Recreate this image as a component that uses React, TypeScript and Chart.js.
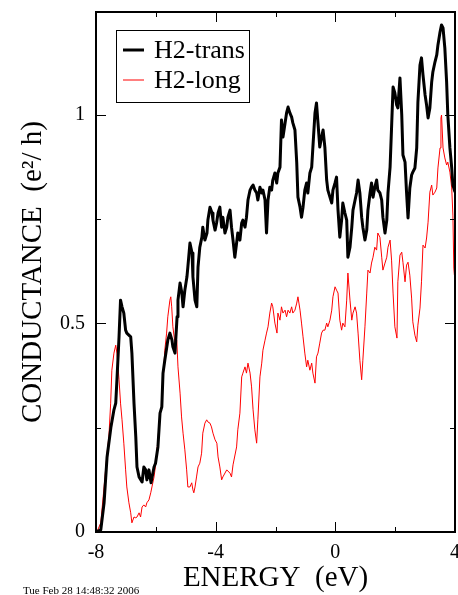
import React, { useEffect, useRef } from 'react';
import { Chart, registerables } from 'chart.js';

Chart.register(...registerables);

// ---- data ----
const transEnergy = [
  -8.00, -7.84, -7.73, -7.63, -7.50, -7.40, -7.34, -7.30, -7.23, -7.18, -7.13, -7.07, -7.01, -6.97, -6.84, -6.80,
  -6.73, -6.67, -6.63, -6.56, -6.46, -6.40, -6.34, -6.30, -6.23, -6.16, -6.06, -6.01, -5.93, -5.86, -5.80, -5.76,
  -5.70, -5.60, -5.53, -5.46, -5.43, -5.36, -5.29, -5.26, -5.19, -5.13, -5.09, -5.03, -4.96, -4.93, -4.86, -4.79,
  -4.76, -4.69, -4.63, -4.59, -4.53, -4.46, -4.43, -4.36, -4.29, -4.26, -4.19, -4.12, -4.09, -4.02, -3.97, -3.92,
  -3.86, -3.80, -3.76, -3.69, -3.63, -3.59, -3.52, -3.47, -3.42, -3.36, -3.30, -3.26, -3.19, -3.13, -3.09, -3.02,
  -2.97, -2.92, -2.85, -2.80, -2.75, -2.69, -2.63, -2.59, -2.52, -2.46, -2.42, -2.35, -2.30, -2.25, -2.19, -2.13,
  -2.09, -2.02, -1.96, -1.92, -1.85, -1.80, -1.75, -1.68, -1.63, -1.58, -1.52, -1.46, -1.42, -1.35, -1.29, -1.25,
  -1.18, -1.13, -1.08, -1.02, -0.96, -0.92, -0.85, -0.79, -0.75, -0.68, -0.63, -0.58, -0.52, -0.46, -0.41, -0.35,
  -0.29, -0.25, -0.18, -0.12, -0.08, -0.01, 0.04, 0.09, 0.15, 0.21, 0.25, 0.32, 0.38, 0.42, 0.49, 0.55,
  0.59, 0.66, 0.71, 0.76, 0.82, 0.88, 0.92, 0.99, 1.05, 1.09, 1.16, 1.21, 1.26, 1.32, 1.38, 1.42,
  1.49, 1.55, 1.59, 1.66, 1.72, 1.76, 1.83, 1.88, 1.93, 1.99, 2.05, 2.09, 2.16, 2.22, 2.26, 2.33,
  2.38, 2.43, 2.49, 2.55, 2.59, 2.66, 2.72, 2.76, 2.83, 2.88, 2.93, 3.00, 3.05, 3.10, 3.16, 3.22,
  3.26, 3.33, 3.39, 3.43, 3.50, 3.55, 3.60, 3.66, 3.72, 3.76, 3.83, 3.89, 3.93, 4.00,
];
const transConductance = [
  0.000, 0.005, 0.070, 0.180, 0.252, 0.293, 0.309, 0.365, 0.468, 0.556, 0.540, 0.525, 0.484, 0.477, 0.468, 0.429,
  0.309, 0.228, 0.156, 0.132, 0.120, 0.156, 0.149, 0.125, 0.149, 0.118, 0.156, 0.165, 0.204, 0.285, 0.300, 0.381,
  0.412, 0.460, 0.477, 0.460, 0.444, 0.429, 0.516, 0.556, 0.597, 0.573, 0.540, 0.580, 0.612, 0.635, 0.693, 0.669,
  0.612, 0.556, 0.540, 0.635, 0.683, 0.707, 0.731, 0.700, 0.717, 0.748, 0.779, 0.765, 0.748, 0.724, 0.741, 0.765,
  0.779, 0.731, 0.755, 0.717, 0.731, 0.755, 0.772, 0.731, 0.700, 0.659, 0.693, 0.717, 0.700, 0.741, 0.748, 0.731,
  0.755, 0.796, 0.820, 0.827, 0.832, 0.820, 0.813, 0.796, 0.827, 0.813, 0.820, 0.796, 0.717, 0.796, 0.827, 0.820,
  0.844, 0.861, 0.837, 0.861, 0.875, 0.988, 0.947, 0.981, 1.005, 1.019, 1.005, 0.995, 0.981, 0.964, 0.885, 0.803,
  0.779, 0.755, 0.779, 0.820, 0.837, 0.813, 0.861, 0.875, 0.923, 1.005, 1.029, 0.981, 0.923, 0.947, 0.964, 0.923,
  0.844, 0.820, 0.803, 0.789, 0.820, 0.837, 0.851, 0.772, 0.707, 0.748, 0.789, 0.765, 0.748, 0.659, 0.683, 0.731,
  0.772, 0.796, 0.813, 0.844, 0.813, 0.755, 0.731, 0.700, 0.724, 0.772, 0.813, 0.837, 0.803, 0.827, 0.844, 0.820,
  0.813, 0.796, 0.755, 0.717, 0.748, 0.813, 0.875, 0.971, 1.067, 1.053, 1.024, 1.017, 1.089, 1.000, 0.904, 0.887,
  0.815, 0.753, 0.825, 0.856, 0.863, 0.873, 0.921, 1.031, 1.120, 1.137, 1.096, 1.048, 1.024, 0.993, 1.017, 1.079,
  1.103, 1.127, 1.144, 1.168, 1.199, 1.216, 1.209, 1.161, 1.079, 1.000, 0.921, 0.873, 0.832, 0.815,
];

const longEnergy = [
  -7.97, -7.84, -7.73, -7.63, -7.57, -7.51, -7.47, -7.40, -7.34, -7.30, -7.23, -7.18, -7.13, -7.07, -7.01, -6.97,
  -6.90, -6.84, -6.80, -6.73, -6.67, -6.63, -6.56, -6.51, -6.46, -6.40, -6.34, -6.30, -6.23, -6.17, -6.13, -6.06,
  -6.00, -5.93, -5.86, -5.81, -5.76, -5.70, -5.64, -5.60, -5.53, -5.50, -5.47, -5.43, -5.36, -5.30, -5.26, -5.19,
  -5.14, -5.09, -5.03, -4.97, -4.93, -4.86, -4.80, -4.76, -4.73, -4.69, -4.64, -4.59, -4.53, -4.47, -4.43, -4.36,
  -4.30, -4.26, -4.19, -4.14, -4.09, -4.02, -3.96, -3.92, -3.86, -3.80, -3.76, -3.63, -3.52, -3.47, -3.42, -3.30,
  -3.26, -3.19, -3.13, -3.09, -3.02, -2.97, -2.92, -2.85, -2.80, -2.75, -2.69, -2.63, -2.59, -2.52, -2.46, -2.42,
  -2.35, -2.30, -2.25, -2.19, -2.13, -2.09, -2.02, -1.95, -1.92, -1.85, -1.80, -1.75, -1.68, -1.63, -1.58, -1.52,
  -1.46, -1.42, -1.35, -1.29, -1.25, -1.18, -1.13, -1.08, -1.02, -0.96, -0.92, -0.85, -0.79, -0.75, -0.68, -0.63,
  -0.58, -0.52, -0.46, -0.41, -0.35, -0.29, -0.25, -0.18, -0.12, -0.08, -0.01, 0.04, 0.09, 0.15, 0.21, 0.25,
  0.32, 0.38, 0.42, 0.49, 0.55, 0.59, 0.66, 0.71, 0.76, 0.82, 0.88, 0.92, 0.99, 1.05, 1.09, 1.16,
  1.21, 1.26, 1.32, 1.38, 1.42, 1.49, 1.55, 1.59, 1.66, 1.72, 1.76, 1.83, 1.88, 1.93, 1.99, 2.06,
  2.09, 2.16, 2.22, 2.26, 2.33, 2.38, 2.43, 2.49, 2.55, 2.59, 2.66, 2.72, 2.76, 2.83, 2.88, 2.93,
  3.00, 3.05, 3.10, 3.16, 3.22, 3.26, 3.33, 3.39, 3.43, 3.50, 3.53, 3.55, 3.60, 3.66, 3.72, 3.76,
  3.83, 3.89, 3.93, 3.96, 3.98,
];
const longConductance = [
  0.000, 0.022, 0.108, 0.189, 0.228, 0.309, 0.388, 0.429, 0.448, 0.429, 0.365, 0.309, 0.269, 0.213, 0.149, 0.108,
  0.070, 0.046, 0.022, 0.036, 0.034, 0.036, 0.046, 0.036, 0.060, 0.065, 0.060, 0.070, 0.077, 0.094, 0.108, 0.132,
  0.165, 0.221, 0.285, 0.300, 0.357, 0.436, 0.477, 0.516, 0.556, 0.564, 0.540, 0.492, 0.453, 0.460, 0.396, 0.333,
  0.276, 0.237, 0.197, 0.149, 0.108, 0.108, 0.118, 0.101, 0.094, 0.108, 0.132, 0.156, 0.165, 0.189, 0.237, 0.261,
  0.269, 0.264, 0.261, 0.252, 0.237, 0.221, 0.213, 0.180, 0.156, 0.125, 0.132, 0.149, 0.141, 0.132, 0.161, 0.204,
  0.245, 0.285, 0.372, 0.381, 0.396, 0.381, 0.405, 0.381, 0.348, 0.293, 0.245, 0.213, 0.269, 0.372, 0.405, 0.436,
  0.460, 0.477, 0.492, 0.525, 0.549, 0.540, 0.501, 0.477, 0.525, 0.508, 0.540, 0.525, 0.532, 0.516, 0.532, 0.525,
  0.540, 0.525, 0.532, 0.549, 0.564, 0.532, 0.501, 0.468, 0.429, 0.396, 0.412, 0.388, 0.405, 0.381, 0.357, 0.420,
  0.429, 0.453, 0.477, 0.484, 0.484, 0.501, 0.492, 0.508, 0.532, 0.564, 0.588, 0.580, 0.573, 0.508, 0.484, 0.501,
  0.492, 0.556, 0.621, 0.556, 0.508, 0.525, 0.540, 0.525, 0.477, 0.412, 0.365, 0.412, 0.492, 0.573, 0.628, 0.621,
  0.645, 0.659, 0.683, 0.676, 0.717, 0.707, 0.659, 0.628, 0.645, 0.659, 0.683, 0.700, 0.652, 0.573, 0.492, 0.465,
  0.600, 0.664, 0.671, 0.647, 0.600, 0.640, 0.647, 0.616, 0.561, 0.504, 0.472, 0.456, 0.496, 0.537, 0.600, 0.688,
  0.681, 0.705, 0.743, 0.815, 0.832, 0.808, 0.815, 0.825, 0.873, 0.921, 0.993, 1.000, 0.921, 0.897, 0.880, 0.887,
  0.863, 0.825, 0.760, 0.633, 0.616,
];

const seriesNames = ['H2-trans', 'H2-long'];
const seriesColors = ['#000000', '#ff0000'];
const xTickValues = [-8, -6, -4, -2, 0, 2, 4];
const xLabelValues = [-8, -4, 0, 4];
const yTickValues = [0, 0.25, 0.5, 0.75, 1];
const yLabelValues = [0, 0.5, 1];
const xTitle = 'ENERGY  (eV)';
const yTitle = 'CONDUCTANCE  (e\u00B2/ h)';
const stamp = 'Tue Feb 28 14:48:32 2006';

const FONT = '"Liberation Serif", "Times New Roman", Times, serif';

export default function App() {
  const ref = useRef<HTMLCanvasElement>(null);

  useEffect(() => {
    if (!ref.current) return;
    Chart.defaults.font.family = FONT;
    Chart.defaults.color = '#000';

    const framePlugin = {
      id: 'frameTicks',
      afterDraw(chart: any) {
        const { ctx, chartArea: a, scales } = chart;
        const x = scales.x;
        const y = scales.y;
        ctx.save();
        ctx.strokeStyle = '#000';
        ctx.lineWidth = 1;
        // inward tick marks on all four sides
        ctx.beginPath();
        xTickValues.forEach((v) => {
          const px = Math.round(x.getPixelForValue(v)) + 0.5;
          const len = xLabelValues.includes(v) ? 10 : 5;
          ctx.moveTo(px, a.bottom);
          ctx.lineTo(px, a.bottom - len);
          ctx.moveTo(px, a.top);
          ctx.lineTo(px, a.top + len);
        });
        yTickValues.forEach((v) => {
          const py = Math.round(y.getPixelForValue(v)) + 0.5;
          const len = yLabelValues.includes(v) ? 10 : 5;
          ctx.moveTo(a.left, py);
          ctx.lineTo(a.left + len, py);
          ctx.moveTo(a.right, py);
          ctx.lineTo(a.right - len, py);
        });
        ctx.stroke();
        // frame
        ctx.lineWidth = 2;
        ctx.strokeRect(a.left, a.top, a.right - a.left, a.bottom - a.top);

        // legend
        const lx = a.left + 20;
        const ly = a.top + 18;
        const lw = 133;
        const lh = 72;
        ctx.fillStyle = '#fff';
        ctx.fillRect(lx, ly, lw, lh);
        ctx.lineWidth = 1;
        ctx.strokeStyle = '#000';
        ctx.strokeRect(lx + 0.5, ly + 0.5, lw, lh);
        const widths = [3, 1];
        chart.data.datasets.forEach((ds: any, i: number) => {
          const yy = ly + 20 + i * 30;
          ctx.strokeStyle = ds.borderColor;
          ctx.lineWidth = widths[i];
          ctx.beginPath();
          ctx.moveTo(lx + 7, yy);
          ctx.lineTo(lx + 28, yy);
          ctx.stroke();
          ctx.fillStyle = '#000';
          ctx.font = `26px ${FONT}`;
          ctx.textBaseline = 'middle';
          ctx.textAlign = 'left';
          ctx.fillText(ds.label, lx + 38, yy + 1);
        });

        // time stamp
        ctx.font = `11px ${FONT}`;
        ctx.textBaseline = 'alphabetic';
        ctx.fillStyle = '#000';
        ctx.fillText(stamp, 23, 594);
        ctx.restore();
      },
    };

    const chart = new Chart(ref.current, {
      type: 'line',
      data: {
        datasets: [
          {
            label: seriesNames[0],
            data: transEnergy.map((e, i) => ({ x: e, y: transConductance[i] })),
            borderColor: seriesColors[0],
            borderWidth: 3,
            pointRadius: 0,
            tension: 0,
            borderJoinStyle: 'round',
          },
          {
            label: seriesNames[1],
            data: longEnergy.map((e, i) => ({ x: e, y: longConductance[i] })),
            borderColor: seriesColors[1],
            borderWidth: 1,
            pointRadius: 0,
            tension: 0,
          },
        ],
      },
      options: {
        animation: false,
        responsive: false,
        devicePixelRatio: 1,
        layout: { padding: { left: 0, right: 3, top: 12, bottom: 0 } },
        plugins: { legend: { display: false }, tooltip: { enabled: false } },
        scales: {
          x: {
            type: 'linear',
            min: -8,
            max: 4,
            grid: { display: false, drawTicks: false },
            border: { display: false },
            afterBuildTicks: (s: any) => {
              s.ticks = xTickValues.map((v) => ({ value: v }));
            },
            afterFit: (s: any) => {
              s.height = 63;
              s.paddingLeft = 0;
              s.paddingRight = 0;
            },
            ticks: {
              autoSkip: false,
              maxRotation: 0,
              padding: 9,
              font: { size: 20 },
              callback: (v: any) => (xLabelValues.includes(v) ? String(v) : ''),
            },
            title: {
              display: true,
              text: xTitle,
              font: { size: 29, lineHeight: 1 },
              padding: { top: 0, bottom: 2 },
            },
          },
          y: {
            type: 'linear',
            min: 0,
            max: 1.247,
            grid: { display: false, drawTicks: false },
            border: { display: false },
            afterBuildTicks: (s: any) => {
              s.ticks = yTickValues.map((v) => ({ value: v }));
            },
            afterFit: (s: any) => {
              s.width = 96;
              s.paddingTop = 0;
              s.paddingBottom = 0;
            },
            ticks: {
              autoSkip: false,
              padding: 11,
              font: { size: 20 },
              callback: (v: any) => (yLabelValues.includes(v) ? String(v) : ''),
            },
            title: {
              display: true,
              text: yTitle,
              font: { size: 29, lineHeight: 1 },
              padding: { top: 19, bottom: 0 },
            },
          },
        },
      },
      plugins: [framePlugin],
    });
    return () => chart.destroy();
  }, []);

  return (
    <div style={{ position: 'absolute', left: 0, top: 0, width: 458, height: 595, background: '#fff' }}>
      <canvas ref={ref} width={458} height={595} style={{ display: 'block' }} />
    </div>
  );
}
